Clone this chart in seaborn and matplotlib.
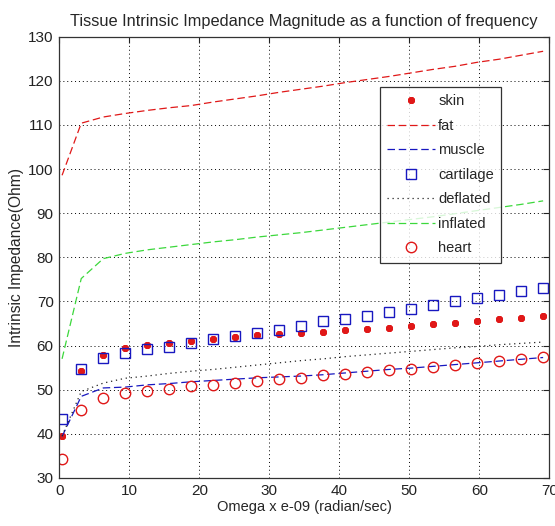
import matplotlib
matplotlib.use("Agg")
import matplotlib.pyplot as plt
import seaborn as sns
import pandas as pd

omega = [0.4, 3.14, 6.28, 9.42, 12.57, 15.71, 18.85, 21.99, 25.13, 28.27, 31.42, 34.56,
         37.70, 40.84, 43.98, 47.12, 50.27, 53.41, 56.55, 59.69, 62.83, 65.97, 69.12]
skin = [39.6, 54.2, 57.9, 59.5, 60.1, 60.7, 61.0, 61.6, 61.9, 62.3, 62.6, 62.8,
        63.1, 63.5, 63.7, 63.9, 64.5, 64.8, 65.2, 65.5, 66.0, 66.3, 66.8]
fat = [98.6, 110.4, 111.8, 112.6, 113.3, 113.9, 114.4, 115.2, 115.9, 116.6, 117.4, 118.1,
       118.8, 119.6, 120.3, 121.0, 121.8, 122.6, 123.3, 124.2, 124.9, 125.8, 126.7]
muscle = [39.4, 48.5, 50.4, 50.6, 51.1, 51.4, 51.8, 52.1, 52.4, 52.7, 52.9, 53.1,
          53.4, 53.8, 54.2, 54.6, 54.9, 55.3, 55.7, 56.1, 56.5, 56.9, 57.3]
cartilage = [43.4, 54.8, 57.1, 58.3, 59.2, 59.7, 60.7, 61.4, 62.2, 62.9, 63.5, 64.5,
             65.5, 66.0, 66.7, 67.7, 68.3, 69.2, 70.2, 70.7, 71.5, 72.4, 73.0]
deflated = [39.5, 49.6, 51.5, 52.6, 53.1, 53.7, 54.2, 54.6, 55.1, 55.6, 56.1, 56.6,
            57.0, 57.5, 57.9, 58.3, 58.7, 59.1, 59.5, 59.8, 60.2, 60.5, 60.8]
inflated = [57.0, 75.2, 79.7, 80.9, 81.7, 82.3, 82.9, 83.5, 84.0, 84.6, 85.1, 85.6,
            86.2, 86.8, 87.4, 88.0, 88.6, 89.2, 89.9, 90.6, 91.3, 92.0, 92.8]
heart = [34.2, 45.3, 48.1, 49.2, 49.8, 50.2, 50.8, 51.1, 51.5, 51.9, 52.4, 52.7,
         53.3, 53.6, 54.1, 54.5, 54.8, 55.2, 55.7, 56.0, 56.5, 56.9, 57.4]

title = "Tissue Intrinsic Impedance Magnitude as a function of frequency"
xlabel = "Omega x e-09 (radian/sec)"
ylabel = "Intrinsic Impedance(Ohm)"

sns.set_style("white")
plt.rcParams["font.family"] = ["Liberation Sans", "DejaVu Sans"]

fig = plt.figure(figsize=(5.55, 5.26), dpi=100)
ax = fig.add_axes([0.1068, 0.0913, 0.8829, 0.8389])

df = pd.DataFrame({"omega": omega, "skin": skin, "fat": fat, "muscle": muscle,
                   "cartilage": cartilage, "deflated": deflated,
                   "inflated": inflated, "heart": heart})

RED = "#e01818"
BLUE = "#1818c0"
GREEN = "#3cd83c"

sns.lineplot(data=df, x="omega", y="skin", ax=ax, color=RED, linestyle="",
             marker=(8, 2, 0), markersize=5, markeredgewidth=1.4,
             markeredgecolor=RED, label="skin")
sns.lineplot(data=df, x="omega", y="fat", ax=ax, color=RED, lw=0.9, label="fat")
sns.lineplot(data=df, x="omega", y="muscle", ax=ax, color=BLUE, lw=0.9, label="muscle")
sns.lineplot(data=df, x="omega", y="cartilage", ax=ax, color=BLUE, linestyle="", marker="s",
             markersize=7.5, markerfacecolor="none", markeredgecolor=BLUE,
             markeredgewidth=1.0, label="cartilage")
sns.lineplot(data=df, x="omega", y="deflated", ax=ax, color="#222222", lw=0.9,
             linestyle=(0, (1, 3)), label="deflated")
sns.lineplot(data=df, x="omega", y="inflated", ax=ax, color=GREEN, lw=0.9, label="inflated")
sns.lineplot(data=df, x="omega", y="heart", ax=ax, color=RED, linestyle="", marker="o",
             markersize=7.5, markerfacecolor="none", markeredgecolor=RED,
             markeredgewidth=1.0, label="heart")

for ln in ax.get_lines():
    if ln.get_label() in ("fat", "muscle", "inflated"):
        ln.set_linestyle((0, (6, 3)))

ax.set_xlim(0, 70)
ax.set_ylim(30, 130)
ax.set_xticks(range(0, 71, 10))
ax.set_yticks(range(30, 131, 10))
ax.grid(True, color="black", linestyle=(0, (1, 3)), linewidth=0.7)
ax.tick_params(direction="in", top=True, right=True, length=4, width=0.8,
               labelsize=11, colors="#222222", pad=4)
for s in ax.spines.values():
    s.set_color("#333333")
    s.set_linewidth(0.9)

ax.set_title(title, fontsize=11.8, pad=8)
ax.set_xlabel(xlabel, fontsize=10.5, labelpad=2)
ax.set_ylabel(ylabel, fontsize=11.2, labelpad=3)

leg = ax.legend(loc="upper left", bbox_to_anchor=(0.654, 0.886), borderaxespad=0,
                fontsize=10.5, frameon=True, fancybox=False, handlelength=3.3,
                handletextpad=0.2, labelspacing=0.72, borderpad=0.5)
leg.get_frame().set_edgecolor("black")
leg.get_frame().set_linewidth(0.9)

fig.savefig("out.png", dpi=100)
